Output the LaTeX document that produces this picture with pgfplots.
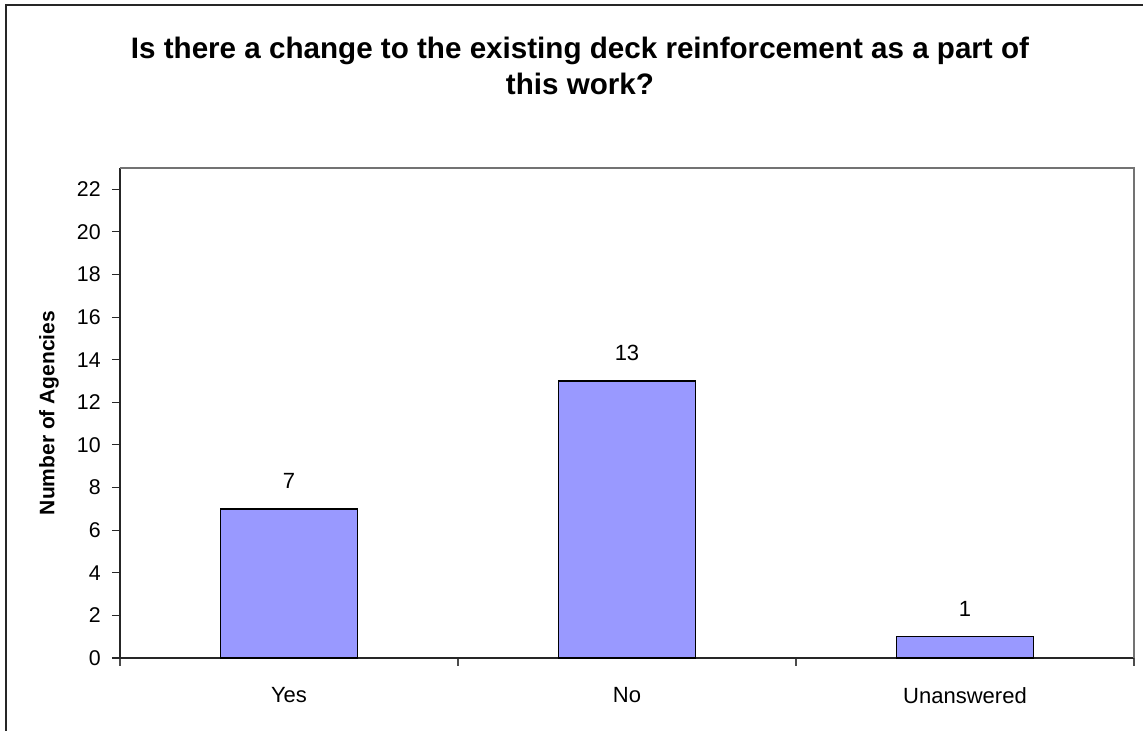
\documentclass[border=0pt]{standalone}
\usepackage{pgfplots}
\pgfplotsset{compat=1.18}
\usepackage{fontspec}
\setmainfont{Liberation Sans}
\definecolor{barblue}{HTML}{9999FF}
\begin{document}
\begin{tikzpicture}[x=0.75pt,y=0.75pt]
\useasboundingbox (0,0) rectangle (1143,731);
\draw[line width=1.1pt, black!85] (6,-5) -- (6,726) -- (1150,726);
\node[font=\fontsize{22.2}{27}\selectfont\bfseries, align=center, anchor=center] at (580,731-66) {Is there a change to the existing deck reinforcement as a part of\\this work?};
\begin{axis}[
  at={(90pt,54.75pt)}, anchor=south west,
  scale only axis, width=760.5pt, height=367.5pt,
  xmin=-0.5, xmax=2.5, ymin=0, ymax=23,
  axis x line*=bottom, axis y line*=left,
  axis line style={-, black!85, line width=1pt},
  /pgf/number format/assume math mode=true,
  ytick={0,2,...,22},
  xtick={-0.5,0.5,1.5,2.5}, xticklabels={},
  extra x ticks={0,1,2}, extra x tick labels={Yes,No,Unanswered},
  extra x tick style={major tick length=0pt, xticklabel style={yshift=-18.5pt, font=\fontsize{16.5}{19}\selectfont}},
  x tick style={draw=black!70, line width=0.9pt},
  y tick style={black!85, line width=0.8pt},
  major tick length=6pt,
  tick align=outside,
  tick label style={font=\fontsize{16}{19}\selectfont},
  yticklabel style={xshift=-5pt},
  ylabel={Number of Agencies},
  ylabel style={font=\fontsize{15.75}{18}\selectfont\bfseries, at={(axis description cs:-0.07,0.5)}, anchor=center},
  ybar, bar width=0.405,
  nodes near coords,
  every node near coord/.append style={font=\fontsize{16.5}{19}\selectfont, anchor=center, yshift=21pt},
  clip=false,
]
\addplot[fill=barblue, draw=black, line width=1pt] coordinates {(0,7) (1,13) (2,1)};
\draw[black!55, line width=1pt] (rel axis cs:0,1) -- (rel axis cs:1,1) -- (rel axis cs:1,0);
\end{axis}
\end{tikzpicture}
\end{document}
